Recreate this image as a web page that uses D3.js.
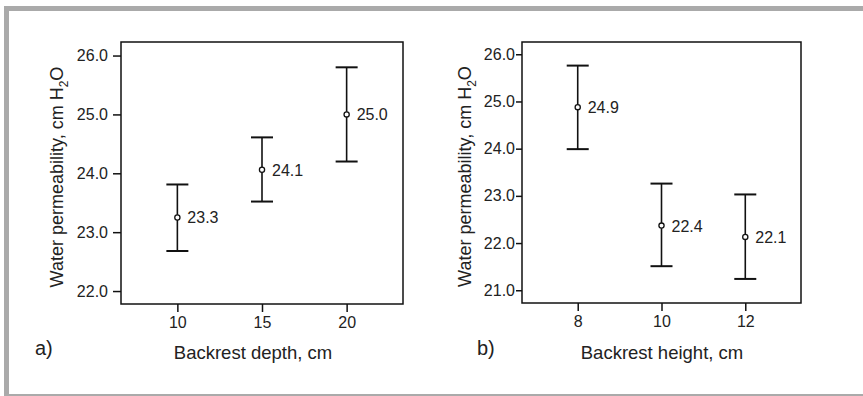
<!DOCTYPE html>
<html>
<head>
<meta charset="utf-8">
<script src="https://cdn.jsdelivr.net/npm/d3@7"></script>
<style>
  body { margin: 0; background: #fff; }
  svg { display: block; font-family: "Liberation Sans", Arial, sans-serif; }
</style>
</head>
<body>
<svg id="chart" width="863" height="396"></svg>
<script>
// panel a) backrest depth
let depthCats = [10, 15, 20];
let depthMean = [23.25, 24.06, 25.0];
let depthLow = [22.68, 23.52, 24.2];
let depthHigh = [23.81, 24.61, 25.8];
let depthLabels = ["23.3", "24.1", "25.0"];
let depthYTicks = [22, 23, 24, 25, 26];

// panel b) backrest height
let heightCats = [8, 10, 12];
let heightMean = [24.88, 22.37, 22.13];
let heightLow = [23.99, 21.51, 21.24];
let heightHigh = [25.76, 23.26, 23.03];
let heightLabels = ["24.9", "22.4", "22.1"];
let heightYTicks = [21, 22, 23, 24, 25, 26];

let svg = d3.select("#chart");

// grey frame
svg.append("rect").attr("x", 4).attr("y", 6).attr("width", 859).attr("height", 5).attr("fill", "#aaa");
svg.append("rect").attr("x", 4).attr("y", 6).attr("width", 5).attr("height", 390).attr("fill", "#aaa");
svg.append("rect").attr("x", 4).attr("y", 394).attr("width", 859).attr("height", 2).attr("fill", "#aaa");

function panel(opts) {
    let g = svg.append("g");

    let x = d3.scaleLinear().domain(opts.xDomain).range([opts.left, opts.right]);
    let y = d3.scaleLinear().domain(opts.yDomain).range([opts.bottom, opts.top]);

    let yAxis = d3.axisLeft(y).tickValues(opts.yTicks).tickFormat(d3.format(".1f"))
        .tickSizeOuter(0).tickSize(opts.yTick).tickPadding(opts.yPad);
    let xAxis = d3.axisBottom(x).tickValues(opts.cats).tickFormat(d3.format("d"))
        .tickSizeOuter(0).tickSize(8).tickPadding(5);

    let ya = g.append("g").attr("transform", "translate(" + opts.left + ",0)").call(yAxis);
    let xa = g.append("g").attr("transform", "translate(0," + opts.bottom + ")").call(xAxis);
    [ya, xa].forEach(a => {
        a.select(".domain").remove();
        a.selectAll("line").attr("stroke", "#111").attr("stroke-width", 1.5);
        a.selectAll("text").attr("fill", "#222").style("font-size", "16px");
    });

    // box
    g.append("rect")
        .attr("x", opts.left).attr("y", opts.top)
        .attr("width", opts.right - opts.left).attr("height", opts.bottom - opts.top)
        .attr("fill", "none").attr("stroke", "#111").attr("stroke-width", 1.5);

    let data = opts.cats.map((c, i) => ({
        c: c, m: opts.mean[i], lo: opts.low[i], hi: opts.high[i], lab: opts.labels[i]
    }));

    let bars = g.selectAll(".bar").data(data).enter().append("g").attr("class", "bar");
    bars.append("line")
        .attr("x1", d => x(d.c)).attr("x2", d => x(d.c))
        .attr("y1", d => y(d.lo)).attr("y2", d => y(d.hi))
        .attr("stroke", "#111").attr("stroke-width", 1.6);
    bars.append("line")
        .attr("x1", d => x(d.c) - 11).attr("x2", d => x(d.c) + 11)
        .attr("y1", d => y(d.hi)).attr("y2", d => y(d.hi))
        .attr("stroke", "#111").attr("stroke-width", 2);
    bars.append("line")
        .attr("x1", d => x(d.c) - 11).attr("x2", d => x(d.c) + 11)
        .attr("y1", d => y(d.lo)).attr("y2", d => y(d.lo))
        .attr("stroke", "#111").attr("stroke-width", 2);
    bars.append("circle")
        .attr("cx", d => x(d.c)).attr("cy", d => y(d.m)).attr("r", 2.6)
        .attr("fill", "#fff").attr("stroke", "#111").attr("stroke-width", 1.3);
    bars.append("text")
        .attr("x", d => x(d.c) + 10).attr("y", d => y(d.m) + 6)
        .attr("fill", "#222").style("font-size", "16px")
        .text(d => d.lab);

    // y title
    let yt = g.append("text")
        .attr("transform", "translate(" + opts.yTitleX + "," + ((opts.top + opts.bottom) / 2 + 4) + ") rotate(-90)")
        .attr("text-anchor", "middle").attr("fill", "#222").style("font-size", "18px");
    yt.append("tspan").text("Water permeability, cm H");
    yt.append("tspan").attr("dy", 5).style("font-size", "12px").text("2");
    yt.append("tspan").attr("dy", -5).text("O");

    // x title
    g.append("text")
        .attr("x", opts.xTitleX).attr("y", 359)
        .attr("text-anchor", "middle").attr("fill", "#222").style("font-size", "18.5px")
        .text(opts.xTitle);

    g.append("text")
        .attr("x", opts.tagX).attr("y", 355)
        .attr("fill", "#222").style("font-size", "20px")
        .text(opts.tag);
}

panel({
    left: 121, right: 403, top: 42, bottom: 304,
    xDomain: [6.67, 23.33], yDomain: [21.78, 26.23],
    cats: depthCats, mean: depthMean, low: depthLow, high: depthHigh, labels: depthLabels,
    yTicks: depthYTicks, yTick: 8, yPad: 5,
    yTitleX: 63, xTitle: "Backrest depth, cm", xTitleX: 253,
    tag: "a)", tagX: 35
});

panel({
    left: 522, right: 801, top: 42, bottom: 303,
    xDomain: [6.67, 13.33], yDomain: [20.73, 26.26],
    cats: heightCats, mean: heightMean, low: heightLow, high: heightHigh, labels: heightLabels,
    yTicks: heightYTicks, yTick: 6, yPad: 1,
    yTitleX: 471, xTitle: "Backrest height, cm", xTitleX: 662,
    tag: "b)", tagX: 477
});
</script>
</body>
</html>
